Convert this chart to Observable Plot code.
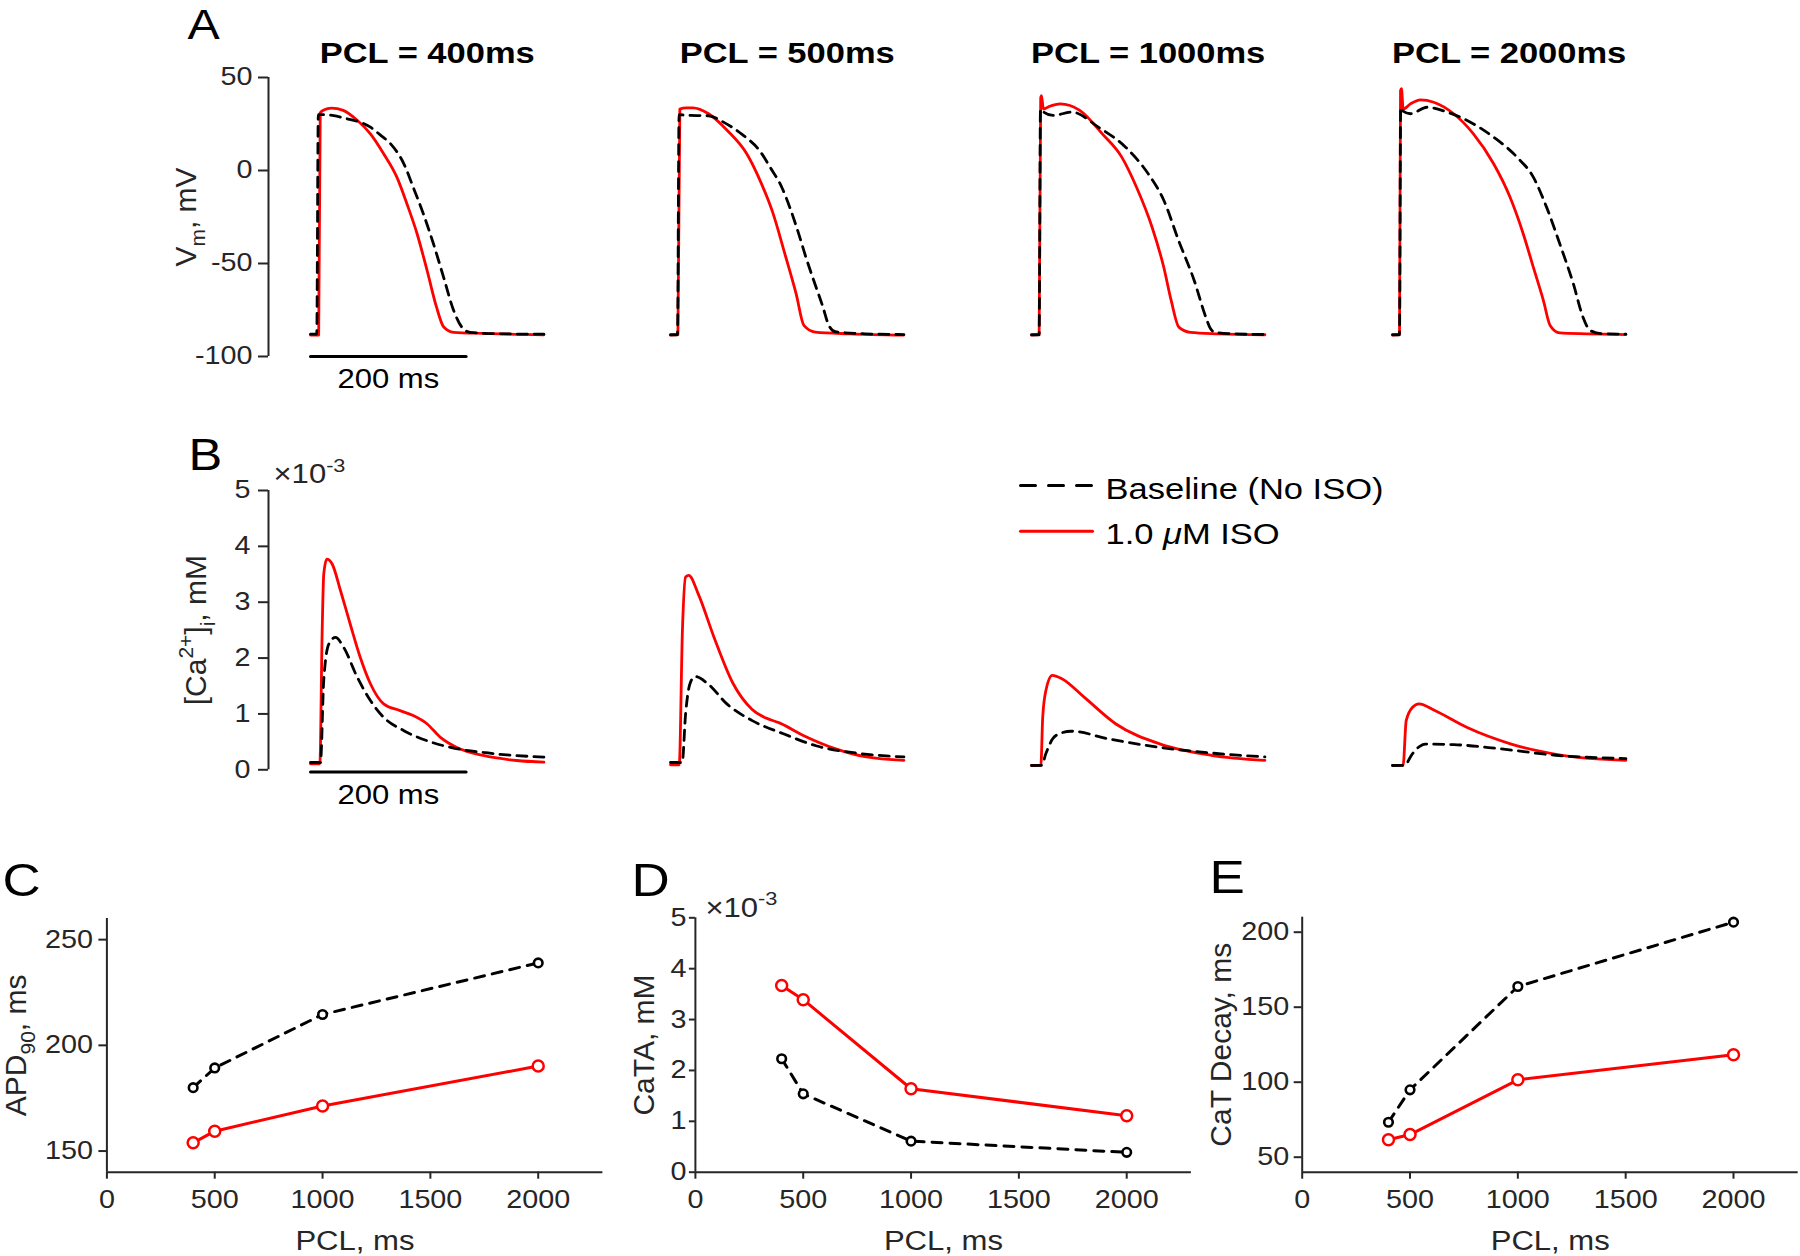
<!DOCTYPE html>
<html>
<head>
<meta charset="utf-8">
<script src="https://cdn.jsdelivr.net/npm/d3@7"></script>
<script src="https://cdn.jsdelivr.net/npm/@observablehq/plot@0.6"></script>
<style>
html, body { margin: 0; padding: 0; background: #fff; }
#fig { position: relative; width: 1800px; height: 1256px; overflow: hidden; background: #fff; }
#fig svg { position: absolute; }
</style>
</head>
<body>
<div id="fig"></div>
<script>
// ---------------- DATA ----------------
const pclValues = [400, 500, 1000, 2000];
const panelTitles = ["PCL = 400ms", "PCL = 500ms", "PCL = 1000ms", "PCL = 2000ms"];
const seriesNames = ["Baseline (No ISO)", "1.0 *{μ}M ISO"];

// Action potentials: [time since start of window (ms), Vm (mV)]
const vmBaseline400 = [[0,-88],[8,-88],[10,30],[14,30],[30,29.5],[45,28],[60,26.5],[77,23.3],[90,19],[103,14.3],[120,3.6],[132,-9],[145,-23.3],[158,-39.4],[171,-57.3],[184,-75.3],[196,-85],[205,-87],[240,-87.8],[300,-88]];
const vmIso400 = [[0,-88.5],[10.5,-88.5],[12.5,31],[17,32.5],[27,33.5],[42,32.3],[60,27],[77,19.7],[94,9],[111,-3.6],[124,-18],[137,-34],[150,-54],[162,-73.5],[171,-84],[184,-87],[222,-87.6],[300,-88.3]];
const vmBaseline500 = [[0,-88.3],[9,-88.3],[11,30],[20,29.7],[49,29.4],[68,26],[92,19.4],[115,10.4],[128,1.8],[143,-9],[154,-20.6],[164,-33],[174,-46.6],[184,-59],[196,-73.5],[203,-82.8],[212,-86.7],[250,-87.8],[300,-88.2]];
const vmIso500 = [[0,-88.5],[9.5,-88.3],[12,33],[20,33.7],[29,33.7],[49,30.5],[73,21.5],[98,9],[117,-7.2],[132,-23.3],[147,-44.8],[161.5,-66.3],[171.5,-83.3],[186,-86.9],[230,-87.8],[300,-88.5]];
const vmBaseline1000 = [[0,-88.3],[9.8,-88.3],[11.5,33],[14,32],[27.6,29.6],[52,31.4],[86,23.3],[121,12.5],[150,-1.8],[170,-16],[189,-37.6],[209,-59],[224,-78.8],[230,-85],[236,-87],[260,-87.8],[300,-88.2]];
const vmIso1000 = [[0,-88.5],[9.8,-88.3],[11.8,39],[12.8,40.3],[15.3,33],[22.6,34.4],[37,35.8],[62,32.3],[91,19.7],[116,7.2],[135,-9],[155,-30.5],[170,-52],[179.6,-70],[189.4,-84.2],[204,-87],[240,-87.8],[300,-88.3]];
const vmBaseline2000 = [[0,-88.3],[9,-88.3],[10.5,34],[13,32],[23,30.5],[44.5,34],[70,31.4],[96,26.9],[130,17.9],[160,7.2],[181,-3.6],[198,-19.7],[215,-39.4],[232.5,-61],[245,-79],[254,-86],[270,-87.8],[300,-88]];
const vmIso2000 = [[0,-88.5],[9,-88.3],[10.3,43],[11.5,44],[13.7,33],[23,35.8],[36,38],[53,36.7],[78.6,30.5],[104,19.7],[130,3.6],[151,-14.3],[168,-34],[181,-52],[194,-70],[202.6,-83.3],[215,-87.3],[250,-87.8],[300,-88.2]];

// Calcium transients: [time (ms), [Ca2+]i (x10^-3 mM)]
const caBaseline400 = [[0,0.13],[12.8,0.13],[17,1.6],[23.5,2.25],[32,2.37],[42.7,2.19],[60,1.66],[77,1.24],[94,0.94],[120,0.70],[150,0.52],[180,0.40],[222,0.31],[300,0.225]];
const caIso400 = [[0,0.107],[12,0.107],[15,2.49],[17,3.5],[21,3.77],[28,3.68],[38.5,3.21],[51,2.61],[64,2.01],[77,1.54],[94,1.18],[115,1.06],[132,0.97],[150,0.82],[167,0.58],[188,0.40],[222,0.256],[265,0.166],[300,0.136]];
const caBaseline500 = [[0,0.13],[15,0.13],[19.4,1.0],[25,1.54],[31.5,1.67],[48,1.54],[72.4,1.18],[105,0.88],[146,0.64],[187,0.43],[244,0.29],[300,0.23]];
const caIso500 = [[0,0.09],[11.2,0.09],[15.3,2.49],[19.4,3.45],[23.5,3.48],[35.6,3.15],[56,2.37],[80.6,1.54],[105,1.08],[122,0.93],[140,0.84],[170,0.62],[211.5,0.38],[252,0.23],[300,0.17]];
const caBaseline1000 = [[0,0.077],[13,0.08],[18.5,0.29],[27,0.55],[35,0.64],[51,0.69],[100,0.55],[165.6,0.40],[231,0.30],[300,0.23]];
const caIso1000 = [[0,0.077],[12,0.08],[14.4,0.94],[18.5,1.42],[26.7,1.69],[39,1.63],[67.6,1.30],[108.5,0.82],[165.6,0.46],[231,0.26],[300,0.17]];
const caBaseline2000 = [[0,0.077],[15,0.08],[25.8,0.29],[35,0.42],[42,0.46],[79,0.45],[136,0.38],[209.7,0.26],[300,0.20]];
const caIso2000 = [[0,0.077],[13.6,0.08],[17.6,0.88],[25.8,1.12],[34,1.18],[54.4,1.06],[95.3,0.76],[152.6,0.46],[218,0.26],[300,0.17]];

// Summary measures vs PCL
const apd90Baseline = [180, 189.3, 214.6, 239];
const apd90Iso = [153.9, 159.4, 171.3, 190.2];
const cataBaseline = [2.23, 1.54, 0.61, 0.39];   // x10^-3 mM
const cataIso = [3.67, 3.39, 1.64, 1.11];        // x10^-3 mM
const decayBaseline = [73.3, 94.9, 163.8, 206.7];
const decayIso = [61.6, 65.1, 101.6, 118.3];

// Axes / ticks
const vmTicks = [-100, -50, 0, 50];
const caTicks = [0, 1, 2, 3, 4, 5];
const pclTicks = [0, 500, 1000, 1500, 2000];
const apdTicks = [150, 200, 250];
const cataTicks = [0, 1, 2, 3, 4, 5];
const decayTicks = [50, 100, 150, 200];
const scaleBarMs = [0, 200];
const scaleBarLabel = "200 ms";

// ---------------- STYLE / LAYOUT ----------------
const FONT = '"Liberation Sans", Arial, Helvetica, sans-serif';
const AXIS = "#262626";
const RED = "#ff0000";
const STRETCH = 1.15;
const STYLE = `background:transparent;overflow:visible;font-family:${FONT};color:${AXIS};`;
const fig = document.getElementById("fig");
const fmt = d => String(d);

function richify(el, raw) {
  const fs = parseFloat(getComputedStyle(el).fontSize) || 26;
  const parts = raw.split(/([\^_*]\{[^}]*\})/).filter(s => s.length);
  while (el.firstChild) el.removeChild(el.firstChild);
  let cur = 0;
  for (const p of parts) {
    const m = p.match(/^([\^_*])\{([^}]*)\}$/);
    const ts = document.createElementNS("http://www.w3.org/2000/svg", "tspan");
    let off = 0, txt = p;
    if (m) {
      txt = m[2];
      if (m[1] === "^") { off = -0.42 * fs; ts.setAttribute("font-size", 0.7 * fs); }
      else if (m[1] === "_") { off = 0.3 * fs; ts.setAttribute("font-size", 0.7 * fs); }
      else { ts.setAttribute("font-style", "italic"); }
    }
    if (off !== cur) ts.setAttribute("dy", (off - cur).toFixed(2));
    cur = off;
    ts.textContent = txt;
    el.appendChild(ts);
  }
}

function postProcess(svg) {
  svg.querySelectorAll("text").forEach(el => {
    const raw = el.textContent;
    if (/[\^_*]\{/.test(raw)) richify(el, raw);
    const tr = (el.getAttribute("transform") || "") + " " + ((el.parentNode && el.parentNode.getAttribute && el.parentNode.getAttribute("transform")) || "");
    if (!/rotate\(\s*-?[1-9]/.test(tr)) {
      const len = el.getComputedTextLength();
      if (len > 0) {
        el.setAttribute("textLength", (len * STRETCH).toFixed(2));
        el.setAttribute("lengthAdjust", "spacingAndGlyphs");
      }
    }
  });
}

function place(svg, left, top) {
  svg.style.left = left + "px";
  svg.style.top = top + "px";
  fig.appendChild(svg);
  postProcess(svg);
}

const toRows = pairs => pairs.map(([t, v]) => ({t, v}));

// ---------------- TRACE PANELS (A, B) ----------------
const PX_PER_MS = 0.778, T_AXIS = -54, T_END = 300;
const FRAME_W = (T_END - T_AXIS) * PX_PER_MS;
const traceStartX = [310, 670, 1031, 1392];
const ML = 120, MR = 30;

function tracePanel(k, o) {
  const baseRows = toRows(o.base), isoRows = toRows(o.iso);
  const tMid = (d3.min(isoRows, d => d.t) + d3.max(isoRows, d => d.t)) / 2;
  const marks = [];
  if (k === 0) {
    marks.push(Plot.ruleX([T_AXIS], {y1: () => o.yDomain[0], y2: () => o.yDomain[1], stroke: AXIS, strokeWidth: 2}));
    marks.push(Plot.axisY({ticks: o.yTicks, tickSize: 10, tickPadding: o.tickPadding, fontSize: 25, strokeWidth: 2, tickFormat: fmt, label: null}));
    const bar = scaleBarMs.map(t => ({t, v: o.barLevel}));
    marks.push(Plot.line(bar, {x: "t", y: "v", stroke: "black", strokeWidth: 3}));
    marks.push(Plot.text([scaleBarLabel], {x: () => d3.mean(scaleBarMs), y: () => o.barLevel, dy: o.barLabelDy, textAnchor: "middle", lineAnchor: "bottom", fontSize: 27, fill: "black", text: d => d}));
    marks.push(Plot.text([o.letter], {frameAnchor: "top-left", dx: o.letterDx, dy: o.letterDy, textAnchor: "start", lineAnchor: "bottom", fontSize: o.letterSize, fill: "black", text: d => d}));
    marks.push(Plot.text([o.ylabel], {frameAnchor: "left", dx: o.ylabelDx, rotate: -90, textAnchor: "middle", lineAnchor: "bottom", fontSize: 30, fill: AXIS, text: d => d}));
    if (o.exponent) marks.push(Plot.text([o.exponent], {frameAnchor: "top-left", dx: 5, dy: -7, textAnchor: "start", lineAnchor: "bottom", fontSize: 27, fill: AXIS, text: d => d}));
  }
  if (o.title) marks.push(Plot.text([o.title], {x: () => tMid, frameAnchor: "top", dy: -14, textAnchor: "middle", lineAnchor: "bottom", fontSize: 30, fontWeight: "bold", fill: "black", text: d => d}));
  marks.push(Plot.line(isoRows, {x: "t", y: "v", stroke: RED, strokeWidth: 2.8, curve: "monotone-x"}));
  marks.push(Plot.line(baseRows, {x: "t", y: "v", stroke: "black", strokeWidth: 2.8, strokeDasharray: "10,7", curve: "monotone-x"}));
  const svg = Plot.plot({
    width: ML + FRAME_W + MR, height: o.mT + o.frameH + o.mB,
    marginLeft: ML, marginRight: MR, marginTop: o.mT, marginBottom: o.mB,
    x: {domain: [T_AXIS, T_END], axis: null},
    y: {domain: o.yDomain, axis: k === 0 ? undefined : null},
    style: STYLE,
    marks
  });
  place(svg, traceStartX[k] + T_AXIS * PX_PER_MS - ML, o.svgTop);
}

const vmBaseline = [vmBaseline400, vmBaseline500, vmBaseline1000, vmBaseline2000];
const vmIso = [vmIso400, vmIso500, vmIso1000, vmIso2000];
const caBaseline = [caBaseline400, caBaseline500, caBaseline1000, caBaseline2000];
const caIso = [caIso400, caIso500, caIso1000, caIso2000];

pclValues.forEach((p, k) => {
  tracePanel(k, {
    base: vmBaseline[k], iso: vmIso[k], yDomain: [-100, 50], yTicks: vmTicks,
    svgTop: 0, mT: 77, frameH: 279, mB: 64, tickPadding: 6,
    barLevel: -100, barLabelDy: 32, title: panelTitles[k],
    letter: "A", letterSize: 42, letterDx: -81, letterDy: -38, ylabel: "V_{m}, mV", ylabelDx: -73
  });
  tracePanel(k, {
    base: caBaseline[k], iso: caIso[k], yDomain: [0, 5], yTicks: caTicks,
    svgTop: 420, mT: 70, frameH: 279.3, mB: 60, tickPadding: 8,
    barLevel: -0.04, barLabelDy: 32,
    letter: "B", letterSize: 44, letterDx: -80, letterDy: -20, ylabel: "[Ca^{2+}]_{i}, mM", ylabelDx: -63,
    exponent: "×10^{-3}"
  });
});

// ---------------- LEGEND ----------------
{
  const rows = [];
  seriesNames.forEach((name, i) => [0, 1].forEach(x => rows.push({name, i, x})));
  const svg = Plot.plot({
    width: 400, height: 100, marginLeft: 10, marginRight: 318, marginTop: 25, marginBottom: 29.3,
    x: {domain: [0, 1], axis: null},
    y: {domain: [0, 1], reverse: true, axis: null},
    style: STYLE,
    marks: [
      Plot.line(rows.filter(d => d.i === 0), {x: "x", y: "i", stroke: "black", strokeWidth: 3, strokeDasharray: "15,13"}),
      Plot.line(rows.filter(d => d.i === 1), {x: "x", y: "i", stroke: RED, strokeWidth: 3}),
      Plot.text(seriesNames.map((name, i) => ({name, i})), {x: () => 1, y: "i", text: "name", dx: 13, dy: 3.4, textAnchor: "start", lineAnchor: "middle", fontSize: 30, fill: "black"})
    ]
  });
  place(svg, 1010, 460);
}

// ---------------- SUMMARY PANELS (C, D, E) ----------------
const X_DOMAIN = [0, 2300];
function summaryPanel(o) {
  const rows = vals => pclValues.map((pcl, i) => ({pcl, val: vals[i]}));
  const b = rows(o.base), s = rows(o.iso);
  const marks = [
    Plot.ruleX([X_DOMAIN[0]], {stroke: AXIS, strokeWidth: 2}),
    Plot.ruleY([o.yDomain[0]], {stroke: AXIS, strokeWidth: 2}),
    Plot.axisX({ticks: pclTicks, tickSize: 7, tickPadding: 11, fontSize: 25, strokeWidth: 2, tickFormat: fmt, label: null}),
    Plot.axisY({ticks: o.yTicks, tickSize: o.tickSize, tickPadding: o.tickPadding, fontSize: 25, strokeWidth: 2, tickFormat: fmt, label: null}),
    Plot.line(b, {x: "pcl", y: "val", stroke: "black", strokeWidth: 3, strokeDasharray: "10,8"}),
    Plot.dot(b, {x: "pcl", y: "val", r: 4.3, stroke: "black", strokeWidth: 2.6, fill: "white"}),
    Plot.line(s, {x: "pcl", y: "val", stroke: RED, strokeWidth: 3}),
    Plot.dot(s, {x: "pcl", y: "val", r: 5.5, stroke: RED, strokeWidth: 2.5, fill: "white"}),
    Plot.text(["PCL, ms"], {frameAnchor: "bottom", dy: 77.3, textAnchor: "middle", lineAnchor: "bottom", fontSize: 27, fill: AXIS, text: d => d}),
    Plot.text([o.ylabel], {frameAnchor: "left", dx: o.ylabelDx, rotate: -90, textAnchor: "middle", lineAnchor: "bottom", fontSize: 30, fill: AXIS, text: d => d}),
    Plot.text([o.letter], {frameAnchor: "top-left", dx: o.letterDx, dy: o.letterDy, textAnchor: "start", lineAnchor: "bottom", fontSize: 46, fill: "black", text: d => d})
  ];
  if (o.exponent) marks.push(Plot.text([o.exponent], {frameAnchor: "top-left", dx: 10, dy: -1, textAnchor: "start", lineAnchor: "bottom", fontSize: 27, fill: AXIS, text: d => d}));
  const svg = Plot.plot({
    width: o.width, height: 416,
    marginLeft: o.mL, marginRight: o.width - o.mL - 496, marginTop: o.mT, marginBottom: 416 - o.mT - o.frameH,
    x: {domain: X_DOMAIN},
    y: {domain: o.yDomain},
    style: STYLE,
    marks
  });
  place(svg, o.left, 840);
}

summaryPanel({left: 0, width: 620, mL: 106.4, mT: 78, frameH: 253.7, yDomain: [140, 260], yTicks: apdTicks,
  base: apd90Baseline, iso: apd90Iso, ylabel: "APD_{90}, ms", ylabelDx: -81, tickSize: 8, tickPadding: 6,
  letter: "C", letterDx: -104.4, letterDy: -23});
summaryPanel({left: 600, width: 610, mL: 94.9, mT: 77.3, frameH: 254.4, yDomain: [0, 5], yTicks: cataTicks,
  base: cataBaseline, iso: cataIso, ylabel: "CaTA, mM", ylabelDx: -41, tickSize: 6, tickPadding: 3,
  letter: "D", letterDx: -64, letterDy: -22, exponent: "×10^{-3}"});
summaryPanel({left: 1190, width: 610, mL: 111.7, mT: 76.7, frameH: 255, yDomain: [40, 210], yTicks: decayTicks,
  base: decayBaseline, iso: decayIso, ylabel: "CaT Decay, ms", ylabelDx: -71, tickSize: 8, tickPadding: 5,
  letter: "E", letterDx: -92.7, letterDy: -24});
</script>
</body>
</html>
